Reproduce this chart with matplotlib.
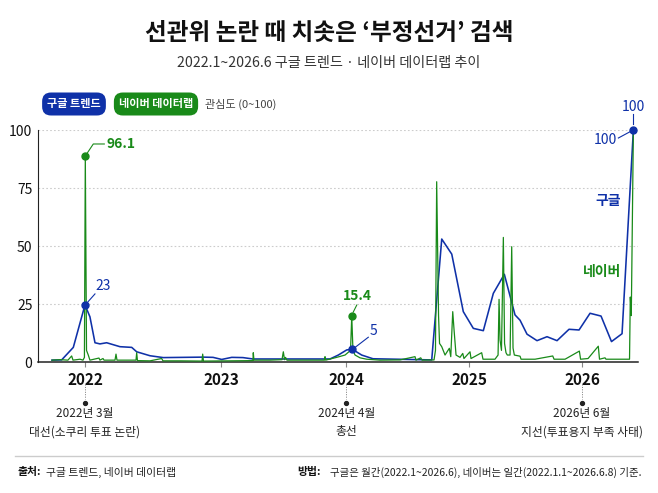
#%% Imports
import matplotlib
matplotlib.use("Agg")
import matplotlib.pyplot as plt
import matplotlib.transforms as mtransforms

plt.rcParams['font.family'] = ['Noto Sans CJK KR', 'DejaVu Sans']

#%% Data (x = months since 2022.1)
# Google Trends, monthly
google_x = [0.0, 0.88, 1.94, 3.0, 3.45, 3.91, 4.36, 4.97, 6.18, 7.25, 7.7, 8.91,
            10.12, 13.73, 14.64, 15.43, 16.34, 17.36, 18.27, 25.27, 26.03, 26.79,
            27.3, 28.15, 29.18, 34.52, 35.43, 36.34, 37.39, 38.3, 39.21, 40.12,
            41.12, 42.09, 42.55, 43.18, 44.09, 45.0, 45.91, 47.0, 47.91, 48.91,
            49.91, 50.86, 51.82, 52.85]
google_y = [0.8, 0.9, 6.3, 24.6, 19.5, 8.3, 7.8, 8.3, 6.6, 6.3, 4.4, 2.7,
            1.9, 2.1, 2.0, 1.1, 2.0, 1.9, 1.3, 1.3, 3.0, 5.2,
            5.5, 3.0, 1.4, 0.9, 53.0, 46.5, 21.7, 14.5, 13.5, 29.6,
            37.8, 20.3, 18.0, 12.0, 9.2, 10.9, 9.2, 14.1, 13.8, 21.0,
            19.8, 8.8, 12.2, 100.0]

# Naver DataLab, daily (baseline + spikes)
naver_x = [0.0, 0.73, 1.45, 1.79, 1.91, 2.55, 2.82, 2.95, 3.03, 3.14, 3.30, 3.45,
           4.27, 4.36, 4.64, 4.73, 5.73, 5.82, 5.91, 7.64, 7.70, 7.77, 8.91,
           9.97, 10.09, 11.64, 13.64, 13.70, 13.77, 16.18, 18.27, 18.30, 18.36,
           19.82, 20.91, 21.03, 21.14, 21.23, 21.36, 22.55, 24.77, 24.82, 24.88,
           25.88, 26.64, 27.14, 27.25, 27.36, 27.55, 28.0, 28.61, 29.82, 31.64,
           33.0, 33.09, 33.52, 33.64, 34.73, 34.86, 34.97, 35.14, 35.23, 35.43,
           35.73, 36.12, 36.25, 36.43, 36.55, 36.73, 37.09, 37.34, 37.45, 38.0,
           38.09, 39.06, 39.18, 40.27, 40.55, 40.64, 40.73, 40.86, 41.03, 41.14,
           41.27, 41.39, 41.64, 41.79, 41.91, 42.03, 42.55, 42.64, 43.91, 45.52,
           45.64, 46.64, 47.94, 48.05, 48.73, 49.66, 49.77, 50.27, 50.36, 51.18,
           52.5, 52.57, 52.66, 52.85]
naver_y = [0.8, 1.0, 0.8, 2.6, 0.8, 1.2, 0.8, 2.0, 88.8, 5.0, 3.0, 0.8,
           1.7, 0.8, 1.5, 0.8, 0.8, 3.4, 0.8, 0.8, 4.0, 0.6, 0.5,
           1.5, 0.5, 0.5, 0.4, 3.4, 0.4, 0.5, 0.6, 4.0, 0.8,
           0.8, 1.0, 4.4, 1.0, 2.0, 0.8, 0.8, 0.8, 2.3, 0.8,
           2.0, 3.0, 5.0, 19.8, 5.0, 3.0, 1.8, 1.2, 0.8, 0.9,
           2.3, 0.8, 1.8, 0.8, 0.9, 5.0, 77.7, 20.0, 8.0, 6.6,
           3.0, 5.9, 2.3, 21.7, 13.8, 3.0, 2.0, 3.7, 1.5, 4.4,
           1.5, 4.0, 1.2, 1.2, 3.0, 27.0, 9.5, 5.0, 53.7, 8.0,
           4.0, 3.0, 3.0, 49.7, 6.0, 3.0, 2.5, 1.2, 1.2, 2.6,
           1.2, 1.2, 4.7, 1.2, 1.5, 6.8, 1.2, 1.8, 1.2, 1.2,
           1.2, 28.0, 20.0, 100.0]

year_pos = [3.0, 15.36, 26.77, 37.91, 48.18]
year_labels = ['2022', '2023', '2024', '2025', '2026']

events = [(0, '2022년 3월', '대선(소쿠리 투표 논란)'),
          (2, '2024년 4월', '총선'),
          (4, '2026년 6월', '지선(투표용지 부족 사태)')]

BLUE = '#0f31a8'
GREEN = '#198a19'

#%% Figure
W, H = 658, 493
fig = plt.figure(figsize=(W / 100, H / 100), dpi=100)
ax = fig.add_axes([38 / W, 1 - 362 / H, 600 / W, 232 / H])
ax.set_xlim(-1.27, 53.27)
ax.set_ylim(0, 100)

def fx(px):
    return px / W

def fy(py):
    return 1 - py / H

# grid + spines
for v in [25, 50, 75, 100]:
    ax.axhline(v, color='#cccccc', lw=0.8, ls=(0, (1.5, 2)), zorder=0)
for s in ['top', 'right']:
    ax.spines[s].set_visible(False)
ax.spines['left'].set_color('#222222')
ax.spines['bottom'].set_color('#222222')
ax.spines['bottom'].set_linewidth(1.1)

ax.set_yticks([0, 25, 50, 75, 100])
ax.tick_params(axis='y', length=0, pad=4, labelsize=10, colors='#111111')
ax.set_xticks(year_pos)
ax.set_xticklabels(year_labels, fontsize=11, fontweight='bold')
ax.tick_params(axis='x', length=3.5, width=0.8, color='#888888', pad=4, labelcolor='#111111')

# lines
ax.plot(google_x, google_y, color=BLUE, lw=1.15, zorder=3, clip_on=False)
ax.plot(naver_x, naver_y, color=GREEN, lw=0.9, zorder=4, clip_on=False)

# marked points
ax.plot([3.03, 27.25], [88.8, 19.8], 'o', color=GREEN, ms=5, zorder=6, clip_on=False)
ax.plot([3.0, 27.3, 52.85], [24.6, 5.5, 100], 'o', color=BLUE, ms=5, zorder=7, clip_on=False)


def leader(pt, offs, color, text, toff, ha='center', weight='medium'):
    # leader line from a data point (offsets in pixels) plus its label
    x0, y0 = ax.transData.transform(pt)
    pts = [(x0 + dx, y0 + dy) for dx, dy in offs]
    dat = ax.transData.inverted().transform(pts)
    ax.plot(dat[:, 0], dat[:, 1], color=color, lw=0.8, zorder=5, clip_on=False)
    tx, ty = ax.transData.inverted().transform((x0 + toff[0], y0 + toff[1]))
    ax.text(tx, ty, text, color=color, ha=ha, va='center', fontsize=10,
            fontweight=weight, clip_on=False)


leader((3.03, 88.8), [(2, 3), (8, 12), (19, 12)], GREEN, '96.1', (21, 12), ha='left', weight='bold')
leader((3.0, 24.6), [(2, 2), (10, 11)], BLUE, '23', (18, 19))
leader((27.25, 19.8), [(1.5, 4), (5, 11)], GREEN, '15.4', (6, 20), weight='bold')
leader((27.3, 5.5), [(3, 2), (16, 12)], BLUE, '5', (21, 18))
leader((52.85, 100), [(-2, -1), (-15, -8)], BLUE, '100', (-16, -10), ha='right')
leader((52.85, 100), [(0, 6), (0, 16)], BLUE, '100', (0, 23))

# series labels
fig.text(fx(621), fy(201), '구글', color=BLUE, ha='right', va='center', fontsize=10, fontweight='bold')
fig.text(fx(621), fy(272), '네이버', color=GREEN, ha='right', va='center', fontsize=10, fontweight='bold')

# events under the axis
trans = mtransforms.blended_transform_factory(ax.transData, fig.transFigure)
for idx, line1, line2 in events:
    xp = year_pos[idx]
    ax.plot([xp, xp], [fy(384), fy(399)], transform=trans, color='#777777', lw=0.7,
            ls=(0, (1, 1.5)), clip_on=False)
    ax.plot([xp], [fy(403)], 'o', transform=trans, color='#222222', ms=2.8, clip_on=False)
    ax.text(xp, fy(413), line1, transform=trans, ha='center', va='center', fontsize=8.5, color='#222222')
    ax.text(xp, fy(432), line2, transform=trans, ha='center', va='center', fontsize=8.5, color='#222222')

# title + subtitle
fig.text(0.5, fy(33), "선관위 논란 때 치솟은 ‘부정선거’ 검색", ha='center', va='center',
         fontsize=17, fontweight='bold', color='#111111')
fig.text(0.5, fy(63), '2022.1~2026.6 구글 트렌드 · 네이버 데이터랩 추이', ha='center', va='center',
         fontsize=10.2, color='#333333')

# legend chips
fig.text(fx(74), fy(104), '구글 트렌드', ha='center', va='center', fontsize=8, fontweight='bold',
         color='white', bbox=dict(boxstyle='round,pad=0.45,rounding_size=0.8', fc=BLUE, ec='none'))
fig.text(fx(156), fy(104), '네이버 데이터랩', ha='center', va='center', fontsize=8, fontweight='bold',
         color='white', bbox=dict(boxstyle='round,pad=0.45,rounding_size=0.8', fc=GREEN, ec='none'))
fig.text(fx(205), fy(104), '관심도 (0~100)', ha='left', va='center', fontsize=8, color='#444444')

# footer
fig.add_artist(plt.Line2D([fx(15), fx(643)], [fy(456), fy(456)], color='#cccccc', lw=1))
fig.text(fx(18), fy(472), '출처:', ha='left', va='center', fontsize=7.8, fontweight='bold', color='#111111')
fig.text(fx(46), fy(472), '구글 트렌드, 네이버 데이터랩', ha='left', va='center', fontsize=7.8, color='#222222')
fig.text(fx(297), fy(472), '방법:', ha='left', va='center', fontsize=7.8, fontweight='bold', color='#111111')
fig.text(fx(641), fy(472), '구글은 월간(2022.1~2026.6), 네이버는 일간(2022.1.1~2026.6.8) 기준.',
         ha='right', va='center', fontsize=7.5, color='#222222')

fig.savefig('out.png', dpi=100)
